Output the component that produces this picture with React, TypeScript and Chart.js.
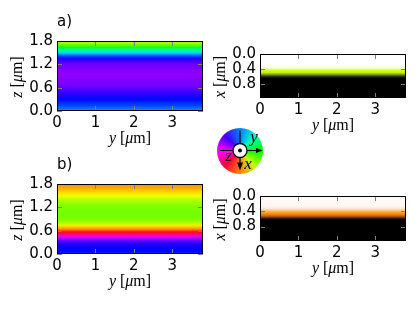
import React, { useEffect, useRef } from "react";
import { Chart, registerables } from "chart.js";

Chart.register(...registerables);

// ---- data ----
const Y_RANGE_UM = [0, 3.8];
const Y_TICKS = [0, 1, 2, 3];
const Z_MAX = 1.8;
const Z_TICKS = [0, 0.6, 1.2, 1.8];
const X_MAX = 1.18;
const X_TICKS = [0, 0.4, 0.8];
const PANEL_LABELS = ["a)", "b)"];

// panel a) left: colour of the z-profile (z in µm, bottom -> top)
const A_Z = [0.0, 0.15, 0.3, 0.45, 0.65, 0.95, 1.22, 1.34, 1.42, 1.49, 1.56, 1.64, 1.72, 1.8];
const A_Z_COLORS = ["#1890ff", "#0040ff", "#0008ff", "#3000ff", "#7400ff", "#9000ff", "#6a00ff", "#2000ff", "#0050ff", "#00d0ff", "#00ffa0", "#10ff20", "#80ff00", "#c8ff00"];

// panel b) left
const B_Z = [0.0, 0.1, 0.26, 0.36, 0.44, 0.49, 0.57, 0.64, 0.72, 0.77, 0.87, 1.03, 1.23, 1.39, 1.49, 1.59, 1.7, 1.8];
const B_Z_COLORS = ["#0818ff", "#0000ff", "#2000ff", "#7000ff", "#e000ff", "#ff00a0", "#ff1000", "#ff9000", "#ffe000", "#d0ff00", "#80ff00", "#70ff00", "#80ff00", "#b0ff00", "#f0ff00", "#ffd800", "#ffa800", "#ff9000"];

// panel a) right: depth profile (x in µm, top -> bottom)
const A_X = [0, 0.3, 0.38, 0.44, 0.5, 0.56, 0.61, 0.66, 1.18];
const A_X_COLORS = ["#ffffff", "#ffffff", "#f4ffc0", "#d4ff20", "#bff000", "#6a8a00", "#1a2400", "#000000", "#000000"];

// panel b) right
const B_X = [0, 0.26, 0.34, 0.41, 0.47, 0.53, 0.58, 0.62, 1.18];
const B_X_COLORS = ["#fffafa", "#fff8f4", "#ffe4cc", "#ffac48", "#ff8800", "#c06000", "#402000", "#000000", "#000000"];

// colour wheel, clockwise from the top
const WHEEL_COLORS = ["#0080ff", "#00ffbf", "#00ff00", "#bfff00", "#ff8000", "#ff0040", "#ff00ff", "#4000ff", "#0080ff"];
const WHEEL_AXES = ["y", "x", "z"];

const W = 415;
const H = 312;
const Y_AXIS_W = 44;
const X_AXIS_H = 20;
const TICK_FONT = { family: "'DejaVu Sans', sans-serif", size: 15 };
const SERIF = "'Liberation Serif', serif";

type Part = { t: string; i: boolean };

function drawParts(ctx: CanvasRenderingContext2D, parts: Part[], cx: number, cy: number, rot: number, size: number) {
  ctx.save();
  ctx.translate(cx, cy);
  ctx.rotate(rot);
  ctx.textBaseline = "middle";
  ctx.textAlign = "left";
  ctx.fillStyle = "#000";
  const widths = parts.map((p) => {
    ctx.font = `${p.i ? "italic " : ""}${size}px ${SERIF}`;
    return ctx.measureText(p.t).width;
  });
  const total = widths.reduce((a, b) => a + b, 0);
  let x = -total / 2;
  parts.forEach((p, k) => {
    ctx.font = `${p.i ? "italic " : ""}${size}px ${SERIF}`;
    ctx.fillText(p.t, x, 0);
    x += widths[k];
  });
  ctx.restore();
}

function unitParts(letter: string): Part[] {
  return [
    { t: letter, i: true },
    { t: " [", i: false },
    { t: "μ", i: true },
    { t: "m]", i: false },
  ];
}

function makeGradient(chart: any, stops: number[], colors: string[]) {
  const area = chart.chartArea;
  if (!area) return "rgba(0,0,0,0)";
  const ys = chart.scales.y;
  const p0 = ys.getPixelForValue(stops[0]);
  const p1 = ys.getPixelForValue(stops[stops.length - 1]);
  const g = chart.ctx.createLinearGradient(0, p0, 0, p1);
  stops.forEach((s, i) => {
    const off = (ys.getPixelForValue(s) - p0) / (p1 - p0);
    g.addColorStop(Math.min(1, Math.max(0, off)), colors[i]);
  });
  return g;
}

type PanelProps = {
  area: { l: number; t: number; r: number; b: number };
  stops: number[];
  colors: string[];
  yMax: number;
  yTicks: number[];
  reverse: boolean;
  yLetter: string;
  label?: string;
};

function Panel(props: PanelProps) {
  const ref = useRef<HTMLCanvasElement | null>(null);
  useEffect(() => {
    const { area, stops, colors, yMax, yTicks, reverse, yLetter, label } = props;
    const framePlugin = {
      id: "frame",
      afterDraw(chart: any) {
        const { ctx, chartArea: a, scales } = chart;
        const xs = scales.x;
        const ys = scales.y;
        ctx.save();
        ctx.lineWidth = 1;
        ctx.strokeStyle = "#7f7f7f";
        const TL = 5;
        ctx.beginPath();
        xs.ticks.forEach((t: any) => {
          const px = Math.round(xs.getPixelForValue(t.value)) + 0.5;
          ctx.moveTo(px, a.top);
          ctx.lineTo(px, a.top + TL);
          ctx.moveTo(px, a.bottom);
          ctx.lineTo(px, a.bottom - TL);
        });
        ys.ticks.forEach((t: any) => {
          const py = Math.round(ys.getPixelForValue(t.value)) + 0.5;
          ctx.moveTo(a.left, py);
          ctx.lineTo(a.left + TL, py);
          ctx.moveTo(a.right, py);
          ctx.lineTo(a.right - TL, py);
        });
        ctx.stroke();
        ctx.strokeStyle = "#000";
        ctx.strokeRect(a.left + 0.5, a.top + 0.5, a.right - a.left - 1, a.bottom - a.top - 1);
        ctx.restore();
        drawParts(ctx, unitParts("y"), (a.left + a.right) / 2, a.bottom + 28, 0, 16);
        drawParts(ctx, unitParts(yLetter), a.left - 39, (a.top + a.bottom) / 2 + 1, -Math.PI / 2, 16);
        if (label) {
          ctx.save();
          ctx.font = "15px 'DejaVu Sans', sans-serif";
          ctx.fillStyle = "#000";
          ctx.textBaseline = "middle";
          ctx.textAlign = "left";
          ctx.fillText(label, a.left, a.top - 19);
          ctx.restore();
        }
      },
    };
    const chart = new Chart(ref.current as HTMLCanvasElement, {
      type: "line",
      data: {
        datasets: [
          {
            data: [
              { x: Y_RANGE_UM[0], y: yMax },
              { x: Y_RANGE_UM[1], y: yMax },
            ],
            fill: { value: 0 },
            borderWidth: 0,
            borderColor: "rgba(0,0,0,0)",
            pointRadius: 0,
            backgroundColor: (c: any) => makeGradient(c.chart, stops, colors),
          },
        ],
      },
      options: {
        animation: false,
        responsive: false,
        maintainAspectRatio: false,
        events: [],
        layout: {
          padding: {
            left: area.l - Y_AXIS_W,
            top: area.t,
            right: W - area.r,
            bottom: H - area.b - X_AXIS_H,
          },
        },
        plugins: { legend: { display: false }, tooltip: { enabled: false }, title: { display: false } },
        scales: {
          x: {
            type: "linear",
            min: Y_RANGE_UM[0],
            max: Y_RANGE_UM[1],
            grid: { display: false, drawTicks: false },
            border: { display: false },
            ticks: { font: TICK_FONT, color: "#000", padding: 3, maxRotation: 0, autoSkip: false, callback: (v: any) => String(v) },
            afterBuildTicks: (s: any) => {
              s.ticks = Y_TICKS.map((v) => ({ value: v }));
            },
            afterFit: (s: any) => {
              s.height = X_AXIS_H;
            },
          },
          y: {
            type: "linear",
            min: 0,
            max: yMax,
            reverse,
            grid: { display: false, drawTicks: false },
            border: { display: false },
            ticks: { font: TICK_FONT, color: "#000", padding: 4, autoSkip: false, callback: (v: any) => Number(v).toFixed(1) },
            afterBuildTicks: (s: any) => {
              s.ticks = yTicks.map((v) => ({ value: v }));
            },
            afterFit: (s: any) => {
              s.width = Y_AXIS_W;
            },
          },
        },
      } as any,
      plugins: [framePlugin],
    });
    return () => chart.destroy();
  }, []);
  return <canvas ref={ref} width={W} height={H} style={{ position: "absolute", left: 0, top: 0, width: W, height: H }} />;
}

function Wheel() {
  const ref = useRef<HTMLCanvasElement | null>(null);
  useEffect(() => {
    const wheelPlugin = {
      id: "wheelAxes",
      afterDraw(chart: any) {
        const { ctx, chartArea: a } = chart;
        const cx = (a.left + a.right) / 2;
        const cy = (a.top + a.bottom) / 2 - 0.5;
        const R = (a.right - a.left) / 2;
        ctx.save();
        ctx.strokeStyle = "#000";
        ctx.fillStyle = "#000";
        ctx.lineWidth = 1.2;
        ctx.beginPath();
        ctx.moveTo(cx, cy - R + 3);
        ctx.lineTo(cx, cy - 7);
        ctx.moveTo(cx - R + 3, cy);
        ctx.lineTo(cx - 7, cy);
        ctx.moveTo(cx + 7, cy);
        ctx.lineTo(cx + R - 6, cy);
        ctx.moveTo(cx, cy + 7);
        ctx.lineTo(cx, cy + R - 8);
        ctx.stroke();
        // arrow heads
        ctx.beginPath();
        ctx.moveTo(cx + R - 0.5, cy);
        ctx.lineTo(cx + R - 7, cy - 2.5);
        ctx.lineTo(cx + R - 7, cy + 2.5);
        ctx.closePath();
        ctx.fill();
        ctx.beginPath();
        ctx.moveTo(cx, cy + R - 3);
        ctx.lineTo(cx - 3, cy + R - 11);
        ctx.lineTo(cx + 3, cy + R - 11);
        ctx.closePath();
        ctx.fill();
        // centre symbol
        ctx.beginPath();
        ctx.arc(cx, cy, 7, 0, Math.PI * 2);
        ctx.fillStyle = "#fff";
        ctx.fill();
        ctx.lineWidth = 1.3;
        ctx.stroke();
        ctx.beginPath();
        ctx.arc(cx, cy, 2, 0, Math.PI * 2);
        ctx.fillStyle = "#000";
        ctx.fill();
        // labels
        ctx.font = `italic 17px ${SERIF}`;
        ctx.textAlign = "center";
        ctx.textBaseline = "middle";
        ctx.fillText(WHEEL_AXES[0], cx + 14, cy - 13);
        ctx.fillText(WHEEL_AXES[1], cx + 8, cy + 14);
        ctx.fillText(WHEEL_AXES[2], cx - 11.5, cy + 6.5);
        ctx.restore();
      },
    };
    const chart = new Chart(ref.current as HTMLCanvasElement, {
      type: "doughnut",
      data: {
        labels: ["wheel"],
        datasets: [
          {
            data: [1],
            borderWidth: 0,
            backgroundColor: (c: any) => {
              const ch = c.chart;
              const a = ch.chartArea;
              if (!a) return "rgba(0,0,0,0)";
              const g = ch.ctx.createConicGradient(-Math.PI / 2, (a.left + a.right) / 2, (a.top + a.bottom) / 2);
              WHEEL_COLORS.forEach((col, i) => g.addColorStop(i / (WHEEL_COLORS.length - 1), col));
              return g;
            },
          },
        ],
      },
      options: {
        animation: false,
        responsive: false,
        maintainAspectRatio: false,
        events: [],
        cutout: "25%",
        layout: { padding: 7 },
        plugins: { legend: { display: false }, tooltip: { enabled: false } },
      } as any,
      plugins: [wheelPlugin],
    });
    return () => chart.destroy();
  }, []);
  return <canvas ref={ref} width={60} height={60} style={{ position: "absolute", left: 210, top: 121, width: 60, height: 60 }} />;
}

export default function App() {
  return (
    <div style={{ position: "fixed", left: 0, top: 0, width: W, height: H, background: "#fff", overflow: "hidden" }}>
      <Panel area={{ l: 57, t: 41, r: 203, b: 111 }} stops={A_Z} colors={A_Z_COLORS} yMax={Z_MAX} yTicks={Z_TICKS} reverse={false} yLetter="z" label={PANEL_LABELS[0]} />
      <Panel area={{ l: 260, t: 54, r: 406, b: 98 }} stops={A_X} colors={A_X_COLORS} yMax={X_MAX} yTicks={X_TICKS} reverse={true} yLetter="x" />
      <Panel area={{ l: 57, t: 184, r: 203, b: 254 }} stops={B_Z} colors={B_Z_COLORS} yMax={Z_MAX} yTicks={Z_TICKS} reverse={false} yLetter="z" label={PANEL_LABELS[1]} />
      <Panel area={{ l: 260, t: 196, r: 406, b: 241 }} stops={B_X} colors={B_X_COLORS} yMax={X_MAX} yTicks={X_TICKS} reverse={true} yLetter="x" />
      <Wheel />
    </div>
  );
}
